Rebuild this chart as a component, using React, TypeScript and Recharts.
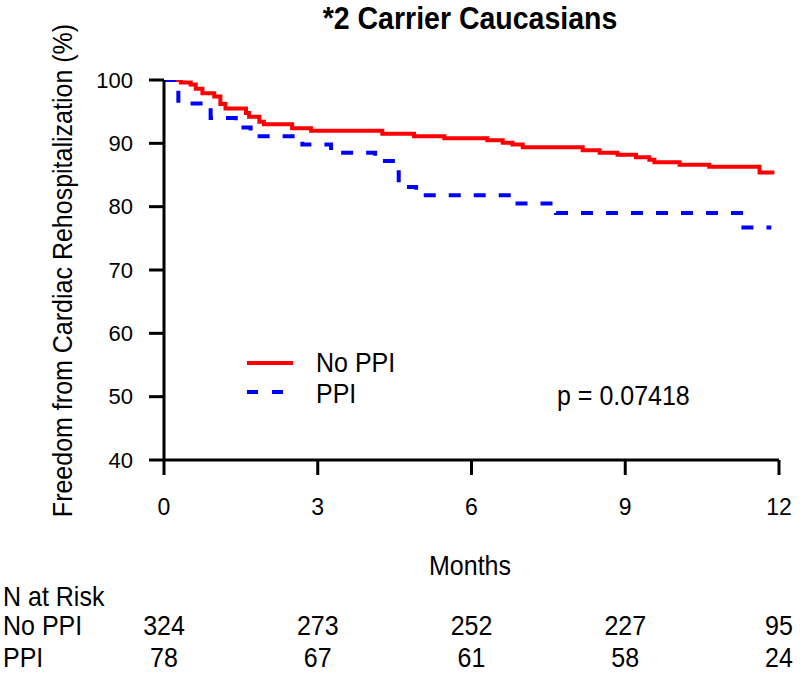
import { LineChart, Line, XAxis, YAxis } from "recharts";

const MONTH_TICKS = [0, 3, 6, 9, 12];
const PCT_TICKS = [40, 50, 60, 70, 80, 90, 100];

// Kaplan-Meier steps (month, % free of rehospitalization)
const noPpiTime = [0, 0.33, 0.52, 0.62, 0.75, 0.98, 1.1, 1.2, 1.6, 1.66, 1.86, 1.95, 2.5, 2.87, 4.26, 4.88, 5.47, 6.31, 6.61, 6.8, 7.0, 8.17, 8.5, 8.85, 9.21, 9.47, 9.57, 10.06, 10.64, 11.62, 11.91];
const noPpiSurv = [100, 99.6, 99.3, 98.6, 97.9, 97.4, 96.2, 95.5, 94.8, 94.2, 93.4, 93.0, 92.4, 92.0, 91.5, 91.1, 90.8, 90.5, 90.1, 89.8, 89.4, 88.9, 88.5, 88.2, 87.8, 87.4, 87.0, 86.6, 86.3, 85.4, 85.4];

const ppiTime = [0, 0.28, 0.91, 1.4, 1.69, 2.7, 3.26, 4.12, 4.58, 4.92, 6.8, 7.65, 11.26, 11.85];
const ppiSurv = [100, 96.3, 94.0, 92.5, 91.1, 89.8, 88.5, 87.2, 83.1, 81.8, 80.5, 79.0, 76.7, 76.7];

const riskNoPpi = [324, 273, 252, 227, 95];
const riskPpi = [78, 67, 61, 58, 24];

const noPpiData = noPpiTime.map((t, i) => ({ t, s: noPpiSurv[i] }));
const ppiData = ppiTime.map((t, i) => ({ t, s: ppiSurv[i] }));

const FONT = '"Liberation Sans", Arial, sans-serif';
const PLOT_LEFT = 164;
const PLOT_RIGHT = 779;
const monthX = (m: number) => PLOT_LEFT + ((PLOT_RIGHT - PLOT_LEFT) * m) / 12;

// the source picture is a bit stretched vertically, so glyphs are taller than wide
const txt = (top: number, left: number, size: number, extra: any = {}, pre = "") => ({
  position: "absolute" as const,
  top,
  left,
  fontSize: size,
  lineHeight: `${size}px`,
  whiteSpace: "nowrap" as const,
  fontFamily: FONT,
  color: "#000",
  transform: `${pre} scaleY(1.12)`,
  ...extra,
});

function LegendBox() {
  return (
    <div style={{ position: "absolute", left: 245, top: 345, width: 200, height: 60, fontFamily: FONT, fontSize: 25 }}>
      <svg width={50} height={60} style={{ position: "absolute", left: 0, top: 0 }}>
        <line x1={2} x2={48} y1={18} y2={18} stroke="#ff0000" strokeWidth={4} />
        <line x1={2} x2={48} y1={47} y2={47} stroke="#0000ff" strokeWidth={4} strokeDasharray="11 14" />
      </svg>
      <div style={txt(5, 71, 25)}>No PPI</div>
      <div style={txt(36, 71, 25)}>PPI</div>
    </div>
  );
}

export default function App() {
  return (
    <div style={{ position: "absolute", left: 0, top: 0, width: 800, height: 673, background: "#fff", fontFamily: FONT }}>
      <LineChart
        width={800}
        height={673}
        margin={{ top: 80, right: 800 - PLOT_RIGHT, left: 0, bottom: 153 }}
      >
        <XAxis
          type="number"
          dataKey="t"
          domain={[0, 12]}
          ticks={MONTH_TICKS}
          allowDataOverflow
          height={60}
          axisLine={{ stroke: "#000", strokeWidth: 3 }}
          tickLine={{ stroke: "#000", strokeWidth: 3 }}
          tickSize={15}
          tickMargin={24}
          tick={{ fill: "#000", fontSize: 23, fontFamily: FONT }}
        />
        <YAxis
          type="number"
          domain={[40, 100]}
          ticks={PCT_TICKS}
          allowDataOverflow
          width={PLOT_LEFT}
          axisLine={{ stroke: "#000", strokeWidth: 3 }}
          tickLine={{ stroke: "#000", strokeWidth: 3 }}
          tickSize={15}
          tickMargin={16}
          tick={{ fill: "#000", fontSize: 22, fontFamily: FONT }}
        />
        <Line
          data={noPpiData}
          dataKey="s"
          type="stepAfter"
          stroke="#ff0000"
          strokeWidth={4}
          dot={false}
          isAnimationActive={false}
        />
        <Line
          data={ppiData}
          dataKey="s"
          type="stepAfter"
          stroke="#0000ff"
          strokeWidth={4}
          strokeDasharray="12 13"
          dot={false}
          isAnimationActive={false}
        />
      </LineChart>

      <LegendBox />

      <div style={txt(4, 470, 28.5, { fontWeight: "bold" }, "translateX(-50%)")}>*2 Carrier Caucasians</div>

      <div style={txt(258, 62, 25, { transformOrigin: "50% 50%" }, "translate(-50%, 0) rotate(-90deg)")}>
        Freedom from Cardiac Rehospitalization (%)
      </div>

      <div style={txt(383, 557, 25)}>p = 0.07418</div>

      <div style={txt(553, 470, 25, {}, "translateX(-50%)")}>Months</div>
      <div style={txt(584, 3, 25)}>N at Risk</div>
      <div style={txt(613, 3, 25)}>No PPI</div>
      <div style={txt(645, 3, 25)}>PPI</div>
      {MONTH_TICKS.map((m, i) => (
        <div key={`a${m}`} style={txt(613, monthX(m), 25, {}, "translateX(-50%)")}>
          {riskNoPpi[i]}
        </div>
      ))}
      {MONTH_TICKS.map((m, i) => (
        <div key={`b${m}`} style={txt(645, monthX(m), 25, {}, "translateX(-50%)")}>
          {riskPpi[i]}
        </div>
      ))}
    </div>
  );
}
